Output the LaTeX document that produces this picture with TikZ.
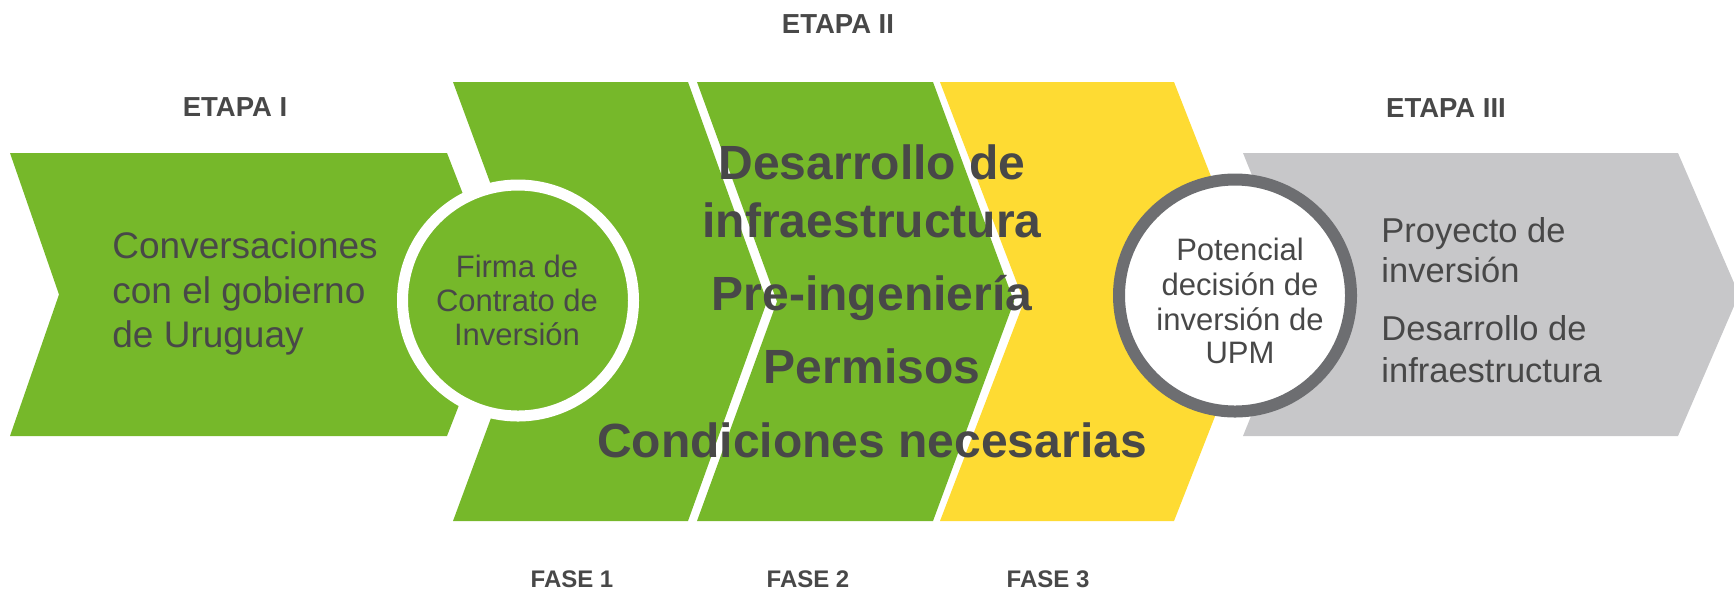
\documentclass[tikz,border=0pt]{standalone}
\usepackage{fontspec}
\setmainfont{Liberation Sans}
\definecolor{upmgreen}{RGB}{118,184,42}
\definecolor{upmyellow}{RGB}{254,219,51}
\definecolor{upmgray}{RGB}{199,199,201}
\definecolor{ringgray}{RGB}{109,110,113}
\definecolor{txt}{RGB}{72,72,72}
\begin{document}
\begin{tikzpicture}[x=0.5pt,y=-0.5pt,
  lbl/.style={text=txt, inner sep=0pt, anchor=base},
  etapa/.style={lbl, font=\fontsize{13.75}{16}\selectfont\bfseries},
  fase/.style={lbl, font=\fontsize{12}{14}\selectfont\bfseries},
  conv/.style={lbl, anchor=base west, font=\fontsize{18.5}{22}\selectfont},
  circtxt/.style={lbl, font=\fontsize{15.5}{18}\selectfont},
  bigbold/.style={lbl, font=\fontsize{24}{28}\selectfont\bfseries},
  righttxt/.style={lbl, anchor=base west, font=\fontsize{17.25}{20}\selectfont}
]
\useasboundingbox (0,0) rectangle (1734,591);
% chevrons
\fill[upmgreen] (10,153) -- (447,153) -- (502,294.5) -- (447,436) -- (10,436) -- (59,294.5) -- cycle;
\fill[upmgreen] (453,82) -- (688,82) -- (767,301.5) -- (688,521) -- (453,521) -- (534,301.5) -- cycle;
\fill[upmgreen] (697,82) -- (933,82) -- (1014,301.5) -- (933,521) -- (697,521) -- (777,301.5) -- cycle;
\fill[upmyellow] (940,82) -- (1174,82) -- (1260,301.5) -- (1174,521) -- (940,521) -- (1024,301.5) -- cycle;
\fill[upmgray] (1243,153) -- (1678,153) -- (1739,294.5) -- (1678,436) -- (1243,436) -- (1300,294.5) -- cycle;
% circles
\node[circle, fill=upmgreen, draw=white, line width=5.5pt, minimum size=115.5pt, inner sep=0pt] (c1) at (518,300.5) {};
\node[circle, fill=white, draw=ringgray, line width=6pt, minimum size=116pt, inner sep=0pt] (c2) at (1235,295.5) {};
% stage labels
\node[etapa] (e1) at (235,116) {ETAPA I};
\node[etapa] (e2) at (838,33) {ETAPA II};
\node[etapa] (e3) at (1446,117) {ETAPA III};
\node[fase] (f1) at (572,587) {FASE 1};
\node[fase] (f2) at (808,587) {FASE 2};
\node[fase] (f3) at (1048,587) {FASE 3};
% stage I text
\node[conv] (ca) at (112,258) {Conversaciones};
\node[conv] (cb) at (112,303) {con el gobierno};
\node[conv] (cc) at (112,347) {de Uruguay};
% circle 1 text
\node[circtxt] (fa) at (517,277) {Firma de};
\node[circtxt] (fb) at (517,311) {Contrato de};
\node[circtxt] (fc) at (517,345) {Inversión};
% phase text
\node[bigbold] (ba) at (872,179) {Desarrollo de};
\node[bigbold] (bb) at (872,237) {infraestructura};
\node[bigbold] (bc) at (872,310) {Pre-ingeniería};
\node[bigbold] (bd) at (872,383) {Permisos};
\node[bigbold] (be) at (872,457) {Condiciones necesarias};
% circle 2 text
\node[circtxt] (pa) at (1240,260) {Potencial};
\node[circtxt] (pb) at (1240,295) {decisión de};
\node[circtxt] (pc) at (1240,330) {inversión de};
\node[circtxt] (pd) at (1240,363) {UPM};
% stage III text
\node[righttxt] (ra) at (1381,242) {Proyecto de};
\node[righttxt] (rb) at (1381,282) {inversión};
\node[righttxt] (rc) at (1381,340) {Desarrollo de};
\node[righttxt] (rd) at (1381,382) {infraestructura};
\end{tikzpicture}
\end{document}
